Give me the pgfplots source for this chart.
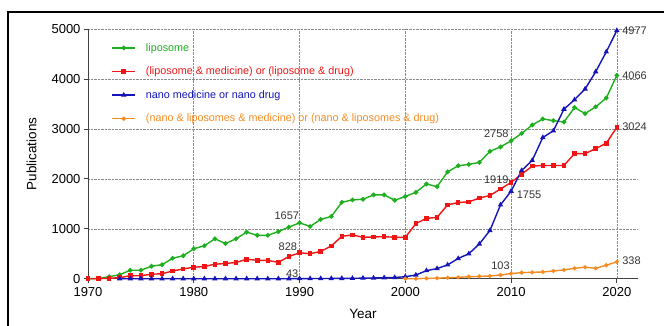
\documentclass[border=0pt]{standalone}
\usepackage{pgfplots}
\pgfplotsset{compat=1.18}
\usepackage{fontspec}
\setmainfont{Liberation Sans}
\definecolor{cgreen}{RGB}{30,175,30}
\definecolor{cred}{RGB}{240,20,20}
\definecolor{cblue}{RGB}{20,20,185}
\definecolor{corange}{RGB}{245,140,35}
\pgfplotstableread{
year lip red
1970 0 0
1971 5 0
1972 40 10
1973 80 20
1974 170 60
1975 170 60
1976 250 90
1977 280 100
1978 410 155
1979 460 195
1980 600 230
1981 660 245
1982 800 290
1983 705 305
1984 800 325
1985 935 390
1986 870 370
1987 870 365
1988 945 330
1989 1035 445
1990 1120 520
1991 1047 500
1992 1188 547
1993 1249 656
1994 1532 850
1995 1579 878
1996 1593 830
1997 1680 837
1998 1680 843
1999 1573 830
2000 1648 830
2001 1732 1105
2002 1899 1209
2003 1845 1230
2004 2142 1480
2005 2264 1527
2006 2291 1541
2007 2331 1615
2008 2554 1669
2009 2642 1797
2010 2764 1932
2011 2912 2095
2012 3081 2257
2013 3203 2270
2014 3169 2270
2015 3142 2270
2016 3432 2507
2017 3311 2507
2018 3446 2608
2019 3622 2716
2020 4075 3035
}\lipdata
\pgfplotstableread{
year val
1973 0
1974 0
1975 0
1976 0
1977 0
1978 0
1979 0
1980 0
1981 0
1982 0
1983 0
1984 0
1985 0
1986 0
1987 0
1988 0
1989 0
1990 2
1991 3
1992 4
1993 5
1994 6
1995 7
1996 12
1997 15
1998 20
1999 25
2000 40
2001 74
2002 162
2003 203
2004 277
2005 405
2006 500
2007 696
2008 966
2009 1480
2010 1755
2011 2169
2012 2372
2013 2831
2014 2966
2015 3399
2016 3588
2017 3804
2018 4149
2019 4547
2020 4977
}\nanodata
\pgfplotstableread{
year val
2000 0
2001 0
2002 7
2003 10
2004 20
2005 27
2006 40
2007 47
2008 54
2009 74
2010 103
2011 122
2012 128
2013 135
2014 155
2015 176
2016 209
2017 230
2018 209
2019 270
2020 338
}\nanolipdata
\begin{document}
\begin{tikzpicture}[x=1pt,y=1pt]
\useasboundingbox (0,0) rectangle (664,325);
\draw[line width=2pt] (8.3,312.7) rectangle (680,-20);
\begin{axis}[
  at={(88pt,46.3pt)}, anchor=south west,
  scale only axis, width=550pt, height=249.4pt,
  xmin=1970, xmax=2022, ymin=0, ymax=5000,
  axis x line*=bottom, axis y line*=left,
  axis line style={line width=0.9pt, color=black!75},
  xtick={1970,1980,1990,2000,2010,2020},
  ytick={0,1000,2000,3000,4000,5000},
  tick align=outside, major tick length=4pt,
  tick style={line width=0.9pt, color=black!75},
  grid=major,
  major grid style={densely dotted, color=black!45, line width=0.6pt},
  ticklabel style={font=\fontsize{13}{15}\selectfont},
  /pgf/number format/assume math mode=true,
  /pgf/number format/1000 sep={},
  xticklabel style={yshift=-1pt},
  xlabel={Year}, ylabel={Publications},
  xlabel style={font=\fontsize{13.5}{16}\selectfont, at={(axis description cs:0.5,0)}, anchor=north, yshift=-27pt},
  ylabel style={font=\fontsize{13.5}{16}\selectfont, at={(axis description cs:0,0.5)}, anchor=south, yshift=48pt},
  legend style={at={(axis description cs:0.0425,0.953)}, anchor=north west, draw=none, fill=none,
    font=\fontsize{10.8}{12}\selectfont, row sep=10.3pt, inner sep=0pt,
    /tikz/every odd column/.append style={column sep=8pt}},
  legend cell align=left,
  legend image code/.code={\draw[mark repeat=2,mark phase=2,#1] plot coordinates {(0pt,0pt) (11.5pt,0pt) (23pt,0pt)};},
  clip=false,
]
\addplot[cgreen, line width=1.4pt, mark=*, mark size=1.6pt] table[x=year,y=lip] {\lipdata};
\addlegendentry{\textcolor{cgreen}{liposome}}
\addplot[cred, line width=1.4pt, mark=square*, mark size=1.6pt] table[x=year,y=red] {\lipdata};
\addlegendentry{\textcolor{cred}{(liposome \& medicine) or (liposome \& drug)}}
\addplot[cblue, line width=1.4pt, mark=triangle*, mark size=1.8pt] table[x=year,y=val] {\nanodata};
\addlegendentry{\textcolor{cblue}{nano medicine or nano drug}}
\addplot[corange, line width=1.4pt, mark=*, mark size=1.3pt] table[x=year,y=val] {\nanolipdata};
\addlegendentry{\textcolor{corange}{(nano \& liposomes \& medicine) or (nano \& liposomes \& drug)}}
\begin{scope}[every node/.style={font=\fontsize{11}{13}\selectfont, text=black!80, inner sep=0pt}]
\node at (axis cs:1988.8,1255) {1657};
\node at (axis cs:1988.9,640) {828};
\node at (axis cs:1989.3,105) {43};
\node at (axis cs:2008.6,2915) {2758};
\node at (axis cs:2008.6,1990) {1919};
\node at (axis cs:2011.7,1675) {1755};
\node at (axis cs:2009,260) {103};
\node[anchor=west] at (axis cs:2020.5,4975) {4977};
\node[anchor=west] at (axis cs:2020.5,4065) {4066};
\node[anchor=west] at (axis cs:2020.5,3050) {3024};
\node[anchor=west] at (axis cs:2020.5,360) {338};
\end{scope}
\end{axis}
\end{tikzpicture}
\end{document}
